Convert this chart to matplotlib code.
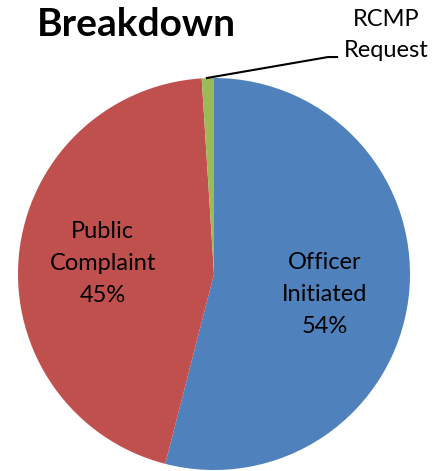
import matplotlib.pyplot as plt

categories = ['Officer\nInitiated', 'Public\nComplaint', 'RCMP\nRequest']
shares = [54, 45, 1]
colors = ['#4F81BD', '#C0504D', '#9BBB59']

plt.rcParams['font.family'] = ['Lato', 'DejaVu Sans']

fig = plt.figure(figsize=(4.44, 4.71), dpi=100)
# pie centre at (214, 274) px, radius 196 px
ax = fig.add_axes([18 / 444, 1 / 471, 392 / 444, 392 / 471])

labels = [f'{c}\n{v}%' for c, v in zip(categories[:2], shares[:2])] + ['']
wedges, texts = ax.pie(shares, colors=colors, startangle=90, counterclock=False,
                       labels=labels, labeldistance=0.57,
                       textprops=dict(fontsize=17, ha='center', va='center',
                                      linespacing=1.65))
# nudge the officer label down a little, like the original
x, y = texts[0].get_position()
texts[0].set_position((x, y - 0.035))
ax.set_xlim(-1, 1)
ax.set_ylim(-1, 1)

# leader line to the small slice
ax.plot([-0.036, 0.582, 0.628], [1.0, 1.107, 1.107], color='black', lw=1.5,
        clip_on=False)
ax.text(0.88, 1.22, categories[2], ha='center', va='center', fontsize=17,
        linespacing=1.6, clip_on=False)

fig.text(37 / 444, 1 - 25 / 471, 'Breakdown', fontsize=28, fontweight='bold',
         ha='left', va='center')

fig.savefig('out.png', dpi=100)
